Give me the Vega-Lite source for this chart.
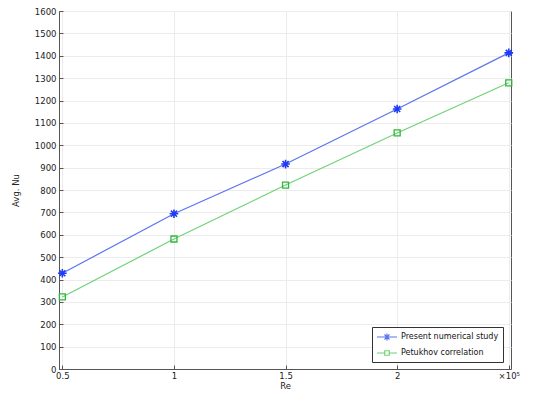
{
  "$schema": "https://vega.github.io/schema/vega-lite/v6.json",
  "width": 452,
  "height": 358,
  "autosize": {"type": "none"},
  "padding": {"left": 59, "top": 11, "right": 48, "bottom": 39},
  "background": "white",
  "config": {
    "font": "DejaVu Sans",
    "view": {"stroke": "#555555", "strokeWidth": 1},
    "axis": {
      "labelFont": "DejaVu Sans",
      "titleFont": "DejaVu Sans",
      "labelFontSize": 8.5,
      "titleFontSize": 8.5,
      "titleFontWeight": "normal",
      "labelColor": "#222222",
      "titleColor": "#222222",
      "domainColor": "#555555",
      "tickColor": "#555555",
      "gridColor": "#ececec",
      "gridWidth": 1
    }
  },
  "data": {
    "values": [
      {"Re": 0.5, "Nu": 428, "series": "Present numerical study"},
      {"Re": 1.0, "Nu": 694, "series": "Present numerical study"},
      {"Re": 1.5, "Nu": 916, "series": "Present numerical study"},
      {"Re": 2.0, "Nu": 1162, "series": "Present numerical study"},
      {"Re": 2.5, "Nu": 1413, "series": "Present numerical study"},
      {"Re": 0.5, "Nu": 322, "series": "Petukhov correlation"},
      {"Re": 1.0, "Nu": 581, "series": "Petukhov correlation"},
      {"Re": 1.5, "Nu": 822, "series": "Petukhov correlation"},
      {"Re": 2.0, "Nu": 1055, "series": "Petukhov correlation"},
      {"Re": 2.5, "Nu": 1279, "series": "Petukhov correlation"}
    ]
  },
  "encoding": {
    "x": {
      "field": "Re",
      "type": "quantitative",
      "scale": {"domain": [0.485, 2.51], "nice": false, "zero": false},
      "axis": {
        "title": "Re",
        "values": [0.5, 1, 1.5, 2, 2.5],
        "labelExpr": "datum.value == 2.5 ? '×10⁵' : format(datum.value, '')",
        "tickSize": -4,
        "labelPadding": 6,
        "titlePadding": 2,
        "labelFlush": false
      }
    },
    "y": {
      "field": "Nu",
      "type": "quantitative",
      "scale": {"domain": [0, 1600], "nice": false},
      "axis": {
        "title": "Avg. Nu",
        "format": "d",
        "values": [0,100,200,300,400,500,600,700,800,900,1000,1100,1200,1300,1400,1500,1600],
        "tickSize": -4,
        "labelPadding": 7,
        "titlePadding": 14
      }
    }
  },
  "layer": [
    {
      "mark": {"type": "line", "strokeWidth": 1.2},
      "encoding": {
        "color": {
          "field": "series",
          "type": "nominal",
          "sort": ["Present numerical study", "Petukhov correlation"],
          "scale": {"domain": ["Present numerical study", "Petukhov correlation"], "range": ["#5a74f0", "#6fd279"]},
          "legend": {
            "title": null,
            "orient": "none",
            "legendX": 313,
            "legendY": 316,
            "direction": "vertical",
            "fillColor": "white",
            "strokeColor": "#333333",
            "padding": 4,
            "labelFont": "DejaVu Sans",
            "labelFontSize": 8,
            "labelColor": "#111111",
            "symbolSize": 100,
            "symbolOffset": 5,
            "labelOffset": 8,
            "rowPadding": 4,
            "encode": {
              "symbols": {
                "update": {
                  "shape": {"signal": "datum.value == 'Present numerical study' ? 'M-2,0L2,0M-0.7,0L0.7,0M0,-0.7L0,0.7M-0.5,-0.5L0.5,0.5M-0.5,0.5L0.5,-0.5' : 'M-2,0L-0.45,0M0.45,0L2,0M-0.45,-0.45L0.45,-0.45L0.45,0.45L-0.45,0.45Z'"},
                  "fill": {"value": "transparent"},
                  "strokeWidth": {"value": 1.2}
                }
              }
            }
          }
        }
      }
    },
    {
      "transform": [{"filter": "datum.series == 'Present numerical study'"}],
      "mark": {
        "type": "point",
        "shape": "M-1,0L1,0M0,-1L0,1M-0.7,-0.7L0.7,0.7M-0.7,0.7L0.7,-0.7",
        "filled": false,
        "stroke": "#1e3cf5",
        "strokeWidth": 1.6,
        "size": 75,
        "opacity": 1
      },
      "encoding": {}
    },
    {
      "transform": [{"filter": "datum.series == 'Petukhov correlation'"}],
      "mark": {
        "type": "point",
        "shape": "square",
        "filled": false,
        "stroke": "#2fb83a",
        "strokeWidth": 1.3,
        "size": 36,
        "opacity": 1
      },
      "encoding": {}
    }
  ]
}
